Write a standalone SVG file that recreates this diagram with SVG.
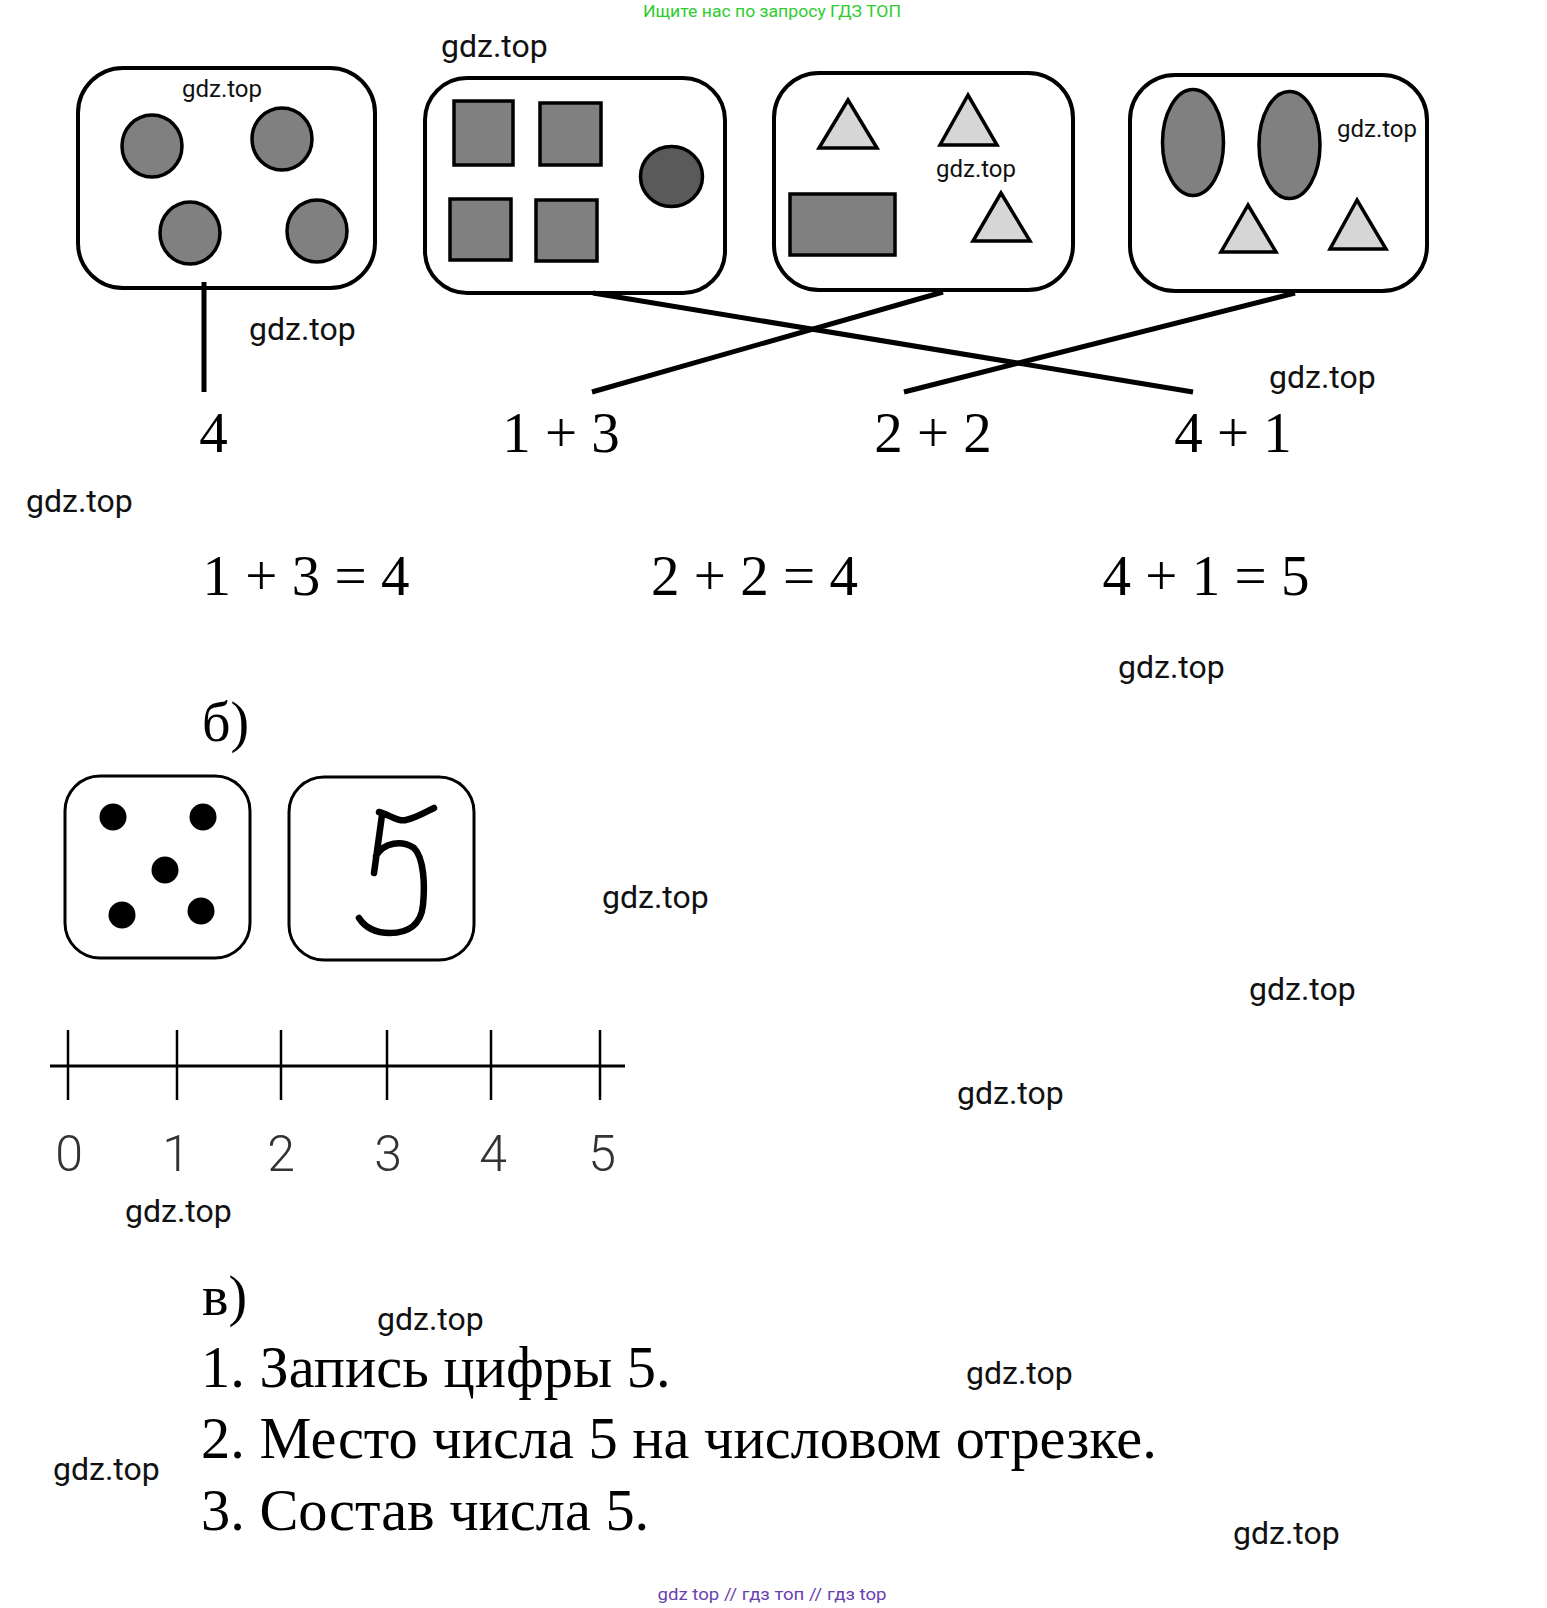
<svg xmlns="http://www.w3.org/2000/svg" width="1547" height="1608" viewBox="0 0 1547 1608">
<style>
.box{fill:#fff;stroke:#000;stroke-width:4}
.die{fill:#fff;stroke:#000;stroke-width:3}
.g{fill:#808080;stroke:#000;stroke-width:3.5}
.dk{fill:#5a5a5a;stroke:#000;stroke-width:3.5}
.tri{fill:#d6d6d6;stroke:#000;stroke-width:3.5;stroke-linejoin:miter}
.conn{stroke:#000;stroke-width:5;fill:none}
.wm{font-family:Roboto,"Liberation Sans",sans-serif;fill:#111}
.wb{font-size:32px}
.ws{font-size:24px}
.ser{font-family:"Liberation Serif","Times New Roman",serif;fill:#000}
.eq{font-size:57px;text-anchor:middle}
.nl{font-family:Roboto,"Liberation Sans",sans-serif;font-weight:300;font-size:50px;fill:#333;text-anchor:middle}
</style>
<rect width="1547" height="1608" fill="#fff"/>
<text x="772" y="17" font-family="Roboto,'Liberation Sans',sans-serif" font-size="17" fill="#2ecc2e" text-anchor="middle" textLength="258" lengthAdjust="spacingAndGlyphs">Ищите нас по запросу ГДЗ ТОП</text>

<g id="box1">
<rect class="box" x="78" y="68" width="297" height="220" rx="45"/>
<ellipse class="g" cx="152" cy="146" rx="30" ry="31"/>
<ellipse class="g" cx="282" cy="139" rx="30" ry="31"/>
<ellipse class="g" cx="190" cy="233" rx="30" ry="31"/>
<ellipse class="g" cx="317" cy="231" rx="30" ry="31"/>
</g>
<g id="box2">
<rect class="box" x="425" y="78" width="300" height="215" rx="42"/>
<rect class="g" x="454" y="101" width="59" height="64" stroke-width="4"/>
<rect class="g" x="540" y="103" width="61" height="62" stroke-width="4"/>
<rect class="g" x="450" y="199" width="61" height="61" stroke-width="4"/>
<rect class="g" x="536" y="200" width="61" height="61" stroke-width="4"/>
<ellipse class="dk" cx="671.5" cy="176.5" rx="31" ry="30"/>
</g>
<g id="box3">
<rect class="box" x="774" y="73" width="299" height="217" rx="45"/>
<polygon class="tri" points="848,100 819,148 877,148"/>
<polygon class="tri" points="968,95 940,145 997,145"/>
<polygon class="tri" points="1001,193 973,241 1030,241"/>
<rect class="g" x="790" y="194" width="105" height="61" stroke-width="4"/>
</g>
<g id="box4">
<rect class="box" x="1130" y="75" width="297" height="216" rx="45"/>
<ellipse class="g" cx="1193" cy="142.5" rx="30.5" ry="53"/>
<ellipse class="g" cx="1289.5" cy="145" rx="30.5" ry="53.5"/>
<polygon class="tri" points="1248,205 1221,252 1276,252"/>
<polygon class="tri" points="1357,200 1330,249 1386,249"/>
</g>

<g id="connectors">
<line class="conn" x1="204" y1="282" x2="204" y2="392"/>
<line class="conn" x1="593" y1="293" x2="1193" y2="392"/>
<line class="conn" x1="943" y1="292" x2="592" y2="392"/>
<line class="conn" x1="1295" y1="293" x2="904" y2="392"/>
</g>

<g id="labels">
<text class="ser eq" x="213.5" y="452">4</text>
<text class="ser eq" x="561" y="452">1 + 3</text>
<text class="ser eq" x="933" y="452">2 + 2</text>
<text class="ser eq" x="1233" y="452">4 + 1</text>
</g>
<g id="equations">
<text class="ser eq" x="306" y="595">1 + 3 = 4</text>
<text class="ser eq" x="754.5" y="595">2 + 2 = 4</text>
<text class="ser eq" x="1206" y="595">4 + 1 = 5</text>
</g>

<text class="ser" x="202" y="741" font-size="56">б)</text>

<g id="die">
<rect class="die" x="65" y="776" width="185" height="182" rx="35"/>
<circle cx="113" cy="817" r="13.5"/>
<circle cx="203" cy="817" r="13.5"/>
<circle cx="165" cy="870" r="13.5"/>
<circle cx="122" cy="915" r="13.5"/>
<circle cx="201" cy="911" r="13.5"/>
</g>
<g id="digit5">
<rect class="die" x="289" y="777" width="185" height="183" rx="35"/>
<path d="M379,812 C390,815 398,822 406,820 C416,818 426,812 434,808 M382,815 L374,873 M376,856 C384,842 402,840 414,848 C424,858 425,885 423,905 C421,925 408,933 390,933 C378,933 366,929 359,918" fill="none" stroke="#000" stroke-width="6.5" stroke-linecap="round" stroke-linejoin="round"/>
</g>

<g id="numberline">
<line x1="50" y1="1066" x2="625" y2="1066" stroke="#000" stroke-width="3"/>
<g stroke="#000" stroke-width="2.5">
<line x1="68" y1="1030" x2="68" y2="1100"/>
<line x1="177" y1="1030" x2="177" y2="1100"/>
<line x1="281" y1="1030" x2="281" y2="1100"/>
<line x1="387" y1="1030" x2="387" y2="1100"/>
<line x1="491" y1="1030" x2="491" y2="1100"/>
<line x1="600" y1="1030" x2="600" y2="1100"/>
</g>
<text class="nl" x="69" y="1171">0</text>
<text class="nl" x="176" y="1171">1</text>
<text class="nl" x="281" y="1171">2</text>
<text class="nl" x="388" y="1171">3</text>
<text class="nl" x="493" y="1171">4</text>
<text class="nl" x="602" y="1171">5</text>
</g>

<text class="ser" x="202" y="1315" font-size="56">в)</text>
<g id="list" class="ser" font-size="58.4">
<text x="201" y="1387">1. Запись цифры 5.</text>
<text x="201" y="1458">2. Место числа 5 на числовом отрезке.</text>
<text x="201" y="1530">3. Состав числа 5.</text>
</g>

<g id="watermarks" class="wm">
<text class="ws" x="182" y="97">gdz.top</text>
<text class="ws" x="936" y="177">gdz.top</text>
<text class="ws" x="1337" y="137">gdz.top</text>
<text class="wb" x="441" y="57">gdz.top</text>
<text class="wb" x="249" y="340">gdz.top</text>
<text class="wb" x="1269" y="388">gdz.top</text>
<text class="wb" x="26" y="512">gdz.top</text>
<text class="wb" x="1118" y="678">gdz.top</text>
<text class="wb" x="602" y="908">gdz.top</text>
<text class="wb" x="1249" y="1000">gdz.top</text>
<text class="wb" x="957" y="1104">gdz.top</text>
<text class="wb" x="125" y="1222">gdz.top</text>
<text class="wb" x="377" y="1330">gdz.top</text>
<text class="wb" x="966" y="1384">gdz.top</text>
<text class="wb" x="53" y="1480">gdz.top</text>
<text class="wb" x="1233" y="1544">gdz.top</text>
</g>
<text x="772" y="1600" font-family="Roboto,'Liberation Sans',sans-serif" font-size="16" fill="#6a3fb0" text-anchor="middle" textLength="229" lengthAdjust="spacingAndGlyphs">gdz top // гдз топ // гдз top</text>
</svg>
